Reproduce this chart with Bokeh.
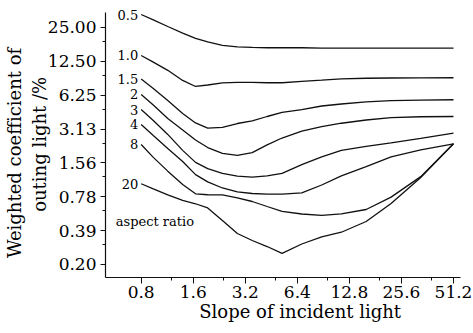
from bokeh.plotting import figure
from bokeh.models import FixedTicker, Label
from bokeh.core.properties import value
from bokeh.embed import file_html
from bokeh.resources import INLINE

# Slope of incident light (x values sampled along the curves)
slope = [0.8, 0.94, 1.14, 1.39, 1.65, 1.94, 2.36, 2.88, 3.51, 4.28, 5.22,
         6.79, 8.85, 11.5, 16.0, 22.3, 33.1, 51.2]

# Weighted coefficient of outing light (%) for each aspect ratio
ar_0_5 = [32.6, 29.2, 25.5, 22.3, 20.0, 18.6, 17.3, 16.8, 16.6, 16.5, 16.5,
          16.5, 16.4, 16.4, 16.4, 16.4, 16.4, 16.4]
ar_1_0 = [14.1, 12.3, 10.4, 8.45, 7.47, 7.70, 8.03, 8.11, 8.11, 8.06, 8.06,
          8.28, 8.49, 8.72, 8.84, 8.89, 8.91, 8.93]
ar_1_5 = [8.72, 7.17, 5.61, 4.30, 3.54, 3.19, 3.23, 3.50, 3.69, 4.04, 4.39,
          4.66, 5.01, 5.22, 5.46, 5.59, 5.65, 5.69]
ar_2 = [6.34, 5.12, 3.88, 3.07, 2.50, 2.14, 1.90, 1.82, 1.93, 2.26, 2.60,
        3.00, 3.29, 3.52, 3.76, 3.94, 4.02, 4.04]
ar_3 = [4.66, 3.72, 2.80, 2.02, 1.58, 1.39, 1.26, 1.19, 1.17, 1.20, 1.26,
        1.51, 1.77, 2.02, 2.19, 2.35, 2.58, 2.87]
ar_4 = [3.43, 2.74, 2.10, 1.61, 1.23, 1.06, 0.935, 0.862, 0.835, 0.826, 0.826,
        0.845, 0.994, 1.20, 1.45, 1.77, 2.04, 2.31]
ar_8 = [2.28, 1.75, 1.32, 1.005, 0.830, 0.814, 0.811, 0.762, 0.709, 0.640,
        0.578, 0.549, 0.533, 0.551, 0.602, 0.775, 1.18, 2.31]
ar_20 = [1.02, 0.917, 0.811, 0.724, 0.677, 0.621, 0.481, 0.368, 0.319, 0.282,
         0.245, 0.297, 0.343, 0.378, 0.471, 0.681, 1.16, 2.31]

series = [ar_0_5, ar_1_0, ar_1_5, ar_2, ar_3, ar_4, ar_8, ar_20]
aspect_labels = ["0.5", "1.0", "1.5", "2", "3", "4", "8", "20"]

x_ticks = [0.8, 1.6, 3.2, 6.4, 12.8, 25.6, 51.2]
x_tick_labels = ["0.8", "1.6", "3.2", "6.4", "12.8", "25.6", "51.2"]
x_minor = [1.2, 2.4, 4.8, 9.6, 19.2, 38.4]

y_ticks = [0.1953125, 0.390625, 0.78125, 1.5625, 3.125, 6.25, 12.5, 25.0]
y_tick_labels = ["0.20", "0.39", "0.78", "1.56", "3.13", "6.25", "12.50", "25.00"]
y_minor = [0.29296875, 0.5859375, 1.171875, 2.34375, 4.6875, 9.375, 18.75]

FONT = "'DejaVu Serif', serif"
INK = "#111111"
NB = "\u00a0"

p = figure(width=473, height=333, x_axis_type="log", y_axis_type="log",
           x_range=(0.4975, 56.2), y_range=(0.1496, 39.2),
           output_backend="svg", toolbar_location=None,
           min_border_left=102, min_border_right=13, min_border_top=5,
           min_border_bottom=56)
p.outline_line_color = None
p.grid.visible = False
p.background_fill_color = "white"
p.border_fill_color = "white"

p.xaxis.ticker = FixedTicker(ticks=x_ticks, minor_ticks=x_minor)
p.xaxis.major_label_overrides = dict(zip(x_ticks, x_tick_labels))
p.yaxis.ticker = FixedTicker(ticks=y_ticks, minor_ticks=y_minor)
p.yaxis.major_label_overrides = dict(zip(y_ticks, y_tick_labels))
p.yaxis.bounds = (0.1496, 34.0)

for ax in (p.xaxis, p.yaxis):
    ax.axis_line_color = INK
    ax.axis_line_width = 1.2
    ax.major_tick_line_color = INK
    ax.minor_tick_line_color = INK
    ax.major_tick_in = 0
    ax.minor_tick_in = 0
    ax.minor_tick_out = 3
    ax.major_label_text_font = FONT
    ax.major_label_text_font_size = "17px"
    ax.major_label_text_color = "black"
    ax.axis_label_text_font = FONT
    ax.axis_label_text_font_size = "18px"
    ax.axis_label_text_font_style = "normal"
    ax.axis_label_text_color = "black"
p.xaxis.major_tick_out = 6
p.yaxis.major_tick_out = 5
p.xaxis.major_label_standoff = 2
p.yaxis.major_label_standoff = 4

p.yaxis.axis_label = "Weighted coefficient of" + NB * 4 + "\nouting light /%" + NB
p.yaxis.axis_label_standoff = -5
p.xaxis.axis_label = NB * 6 + "Slope of incident light"
p.xaxis.axis_label_standoff = 0

for vals in series:
    p.line(slope, vals, line_color=INK, line_width=1.3)

p.text(x=[slope[0]] * len(series), y=[s[0] for s in series], text=aspect_labels,
       text_align="right", text_baseline="middle", x_offset=-3,
       text_font=value(FONT), text_font_size="13px", text_color="black")

p.add_layout(Label(x=0.57, y=0.47, text="aspect ratio", text_align="left",
                   text_baseline="middle", text_font=FONT,
                   text_font_size="13px", text_color="black"))

open("out.html", "w").write(file_html(p, INLINE))
